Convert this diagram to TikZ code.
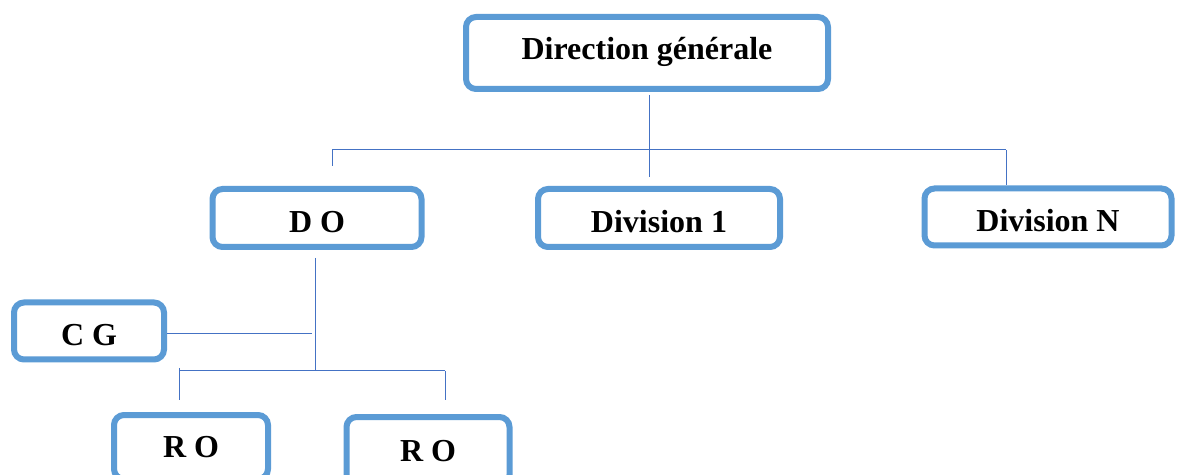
\documentclass[tikz,border=0pt]{standalone}
\usepackage{fontspec}
\setmainfont{Liberation Serif}
\usepackage{tikz}
\usetikzlibrary{positioning}
\definecolor{boxblue}{HTML}{5B9BD5}
\definecolor{lineblue}{HTML}{4472C4}
\tikzset{
  unit/.style={draw=boxblue, line width=3pt, rounded corners=5pt, fill=white,
    font=\fontsize{16}{19}\selectfont\bfseries, inner sep=0pt},
  low/.style={text height=15pt, text depth=0pt},
  link/.style={draw=lineblue, line width=0.5pt}
}

\begin{document}
\begin{tikzpicture}[x=0.5pt,y=-0.5pt]
   \clip (0,0) rectangle (1177,475);
   \useasboundingbox (0,0) rectangle (1177,475);

   \node (DG) [unit, text height=10pt, text depth=3.4pt, minimum width=181pt, minimum height=36pt] at (647,53) {Direction générale};
   \node (DO) [unit, low, minimum width=104.5pt, minimum height=29pt] at (317,218) {D O};
   \node (D1) [unit, low, minimum width=121pt, minimum height=29pt] at (659,218) {Division 1};
   \node (DN) [unit, low, minimum width=123.5pt, minimum height=28.5pt] at (1048,217) {Division N};
   \node (CG) [unit, low, minimum width=75pt, minimum height=28.5pt] at (89,331) {C G};
   \node (RO1) [unit, minimum width=77pt, minimum height=32pt] at (191,447) {R O};
   \node (RO2) [unit, minimum width=81.5pt, minimum height=34pt] at (428,451) {R O};

   % upper level
   \coordinate (busL) at (332,150);
   \coordinate (busR) at (1006,150);
   \draw[link, shorten <=1.5pt, shorten >=4.5pt] ([xshift=1pt]DG.south) -- ([xshift=1pt]DG.south |- D1.north);
   \draw[link] (busL) -- (busR);
   \draw[link, shorten >=10pt] (busL) -- (busL |- DO.north);
   \draw[link] (busR) -- (busR |- DN.north);

   % lower level
   \coordinate (bus2L) at (179,371);
   \coordinate (bus2R) at (445,371);
   \draw[link, shorten <=4pt] ([xshift=-1pt]DO.south) -- ([xshift=-1pt]DO.south |- bus2L);
   \draw[link, shorten >=2.5pt] ([yshift=-1.5pt]CG.east) -- ([yshift=-1.5pt]CG.east -| DO.south);
   \draw[link] (bus2L) -- (bus2R);
   \draw[link, shorten <=-1.5pt, shorten >=6pt] (bus2L) -- (bus2L |- RO1.north);
   \draw[link, shorten >=7pt] (bus2R) -- (bus2R |- RO2.north);
\end{tikzpicture}
\end{document}
